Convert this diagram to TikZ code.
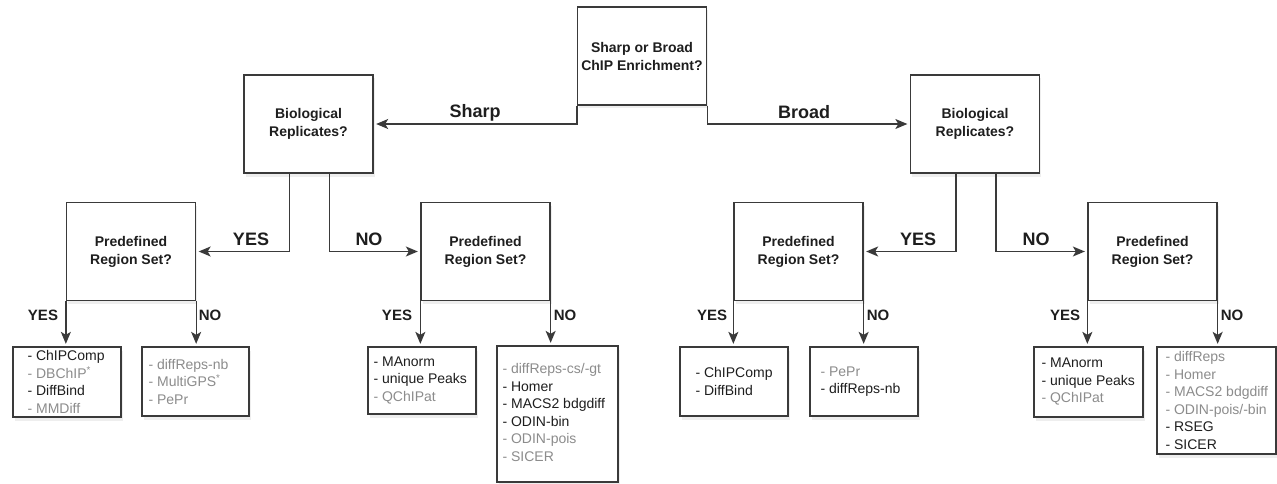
\documentclass[tikz,border=0pt]{standalone}
\usepackage{fontspec}
\setmainfont{Liberation Sans}
\usetikzlibrary{arrows.meta,shadows,calc}
\definecolor{linec}{HTML}{3A3A3A}
\definecolor{txton}{HTML}{1E1E1E}
\definecolor{txtoff}{HTML}{8C8C8C}
\newcommand{\yitem}[1]{\textcolor{txton}{- #1}}
\newcommand{\gitem}[1]{\textcolor{txtoff}{- #1}}
\begin{document}
\begin{tikzpicture}[x=1pt,y=-1pt,
  shad/.style={drop shadow={shadow xshift=1.5pt, shadow yshift=-3.5pt, opacity=0.13}},
  qbox/.style={draw=linec, line width=1.3pt, fill=white, minimum width=129pt, minimum height=98pt,
    inner sep=0pt, align=center, font=\bfseries\fontsize{14}{18}\selectfont, text=txton, shad},
  leafbox/.style={draw=linec, line width=1.3pt, fill=white, inner sep=0pt, shad},
  leaftxt/.style={anchor=west, align=left, inner sep=0pt, font=\fontsize{14}{17.5}\selectfont},
  lbl/.style={font=\bfseries\fontsize{18}{18}\selectfont, text=txton, anchor=base, inner sep=0pt},
  lbls/.style={font=\bfseries\fontsize{15}{15}\selectfont, text=txton, anchor=base, inner sep=0pt},
  arr/.style={-{Stealth[length=12pt,width=10pt,inset=3pt]}, line width=1.3pt, draw=linec, shorten >=2.5pt}
]
\useasboundingbox[fill=white] (0,0) rectangle (1277,484);

% question boxes
\node[qbox] (top)  at (642,56)     {Sharp or Broad\\ChIP Enrichment?};
\node[qbox] (bioL) at (308.5,124)  {Biological\\Replicates?};
\node[qbox] (bioR) at (975,124)    {Biological\\Replicates?};
\node[qbox] (preA) at (131,251.5)  {Predefined\\Region Set?};
\node[qbox] (preB) at (485.5,251.5){Predefined\\Region Set?};
\node[qbox] (preC) at (798.5,251.5){Predefined\\Region Set?};
\node[qbox] (preD) at (1152.5,251.5){Predefined\\Region Set?};

% leaf boxes
\node[leafbox, minimum width=108pt, minimum height=70pt]  (lA) at (67,382) {};
\node[leafbox, minimum width=107pt, minimum height=69pt]  (lB) at (195.5,381.5) {};
\node[leafbox, minimum width=108pt, minimum height=67pt]  (lC) at (422,380.5) {};
\node[leafbox, minimum width=121pt, minimum height=136pt] (lD) at (557.5,414) {};
\node[leafbox, minimum width=108pt, minimum height=69pt]  (lE) at (734,381.5) {};
\node[leafbox, minimum width=108pt, minimum height=69pt]  (lF) at (864,381.5) {};
\node[leafbox, minimum width=109pt, minimum height=70pt]  (lG) at (1088.5,382) {};
\node[leafbox, minimum width=119pt, minimum height=107pt] (lH) at (1216.5,400.5) {};

% leaf texts
\node[leaftxt] (tA) at ([xshift=15pt]lA.west) {\yitem{ChIPComp}\\\gitem{DBChIP\textsuperscript{*}}\\\yitem{DiffBind}\\\gitem{MMDiff}};
\node[leaftxt] (tB) at ([xshift=7pt]lB.west) {\gitem{diffReps-nb}\\\gitem{MultiGPS\textsuperscript{*}}\\\gitem{PePr}};
\node[leaftxt] (tC) at ([xshift=6pt]lC.west) {\yitem{MAnorm}\\\yitem{unique Peaks}\\\gitem{QChIPat}};
\node[leaftxt] (tD) at ([xshift=6pt,yshift=1.5pt]lD.west) {\gitem{diffReps-cs/-gt}\\\yitem{Homer}\\\yitem{MACS2 bdgdiff}\\\yitem{ODIN-bin}\\\gitem{ODIN-pois}\\\gitem{SICER}};
\node[leaftxt] (tE) at ([xshift=16pt]lE.west) {\yitem{ChIPComp}\\\yitem{DiffBind}};
\node[leaftxt] (tF) at ([xshift=11pt]lF.west) {\gitem{PePr}\\\yitem{diffReps-nb}};
\node[leaftxt] (tG) at ([xshift=8pt]lG.west) {\yitem{MAnorm}\\\yitem{unique Peaks}\\\gitem{QChIPat}};
\node[leaftxt] (tH) at ([xshift=9pt]lH.west) {\gitem{diffReps}\\\gitem{Homer}\\\gitem{MACS2 bdgdiff}\\\gitem{ODIN-pois/-bin}\\\yitem{RSEG}\\\yitem{SICER}};

% connectors
\draw[arr] (top.south west) |- (bioL.east);
\draw[arr] (top.south east) |- (bioR.west);
\draw[arr] ([xshift=-19pt]bioL.south) |- (preA.east);
\draw[arr] ([xshift=21pt]bioL.south) |- (preB.west);
\draw[arr] ([xshift=-19pt]bioR.south) |- (preC.east);
\draw[arr] ([xshift=21pt]bioR.south) |- (preD.west);
\draw[arr] (preA.south west) -- (preA.south west |- lA.north);
\draw[arr] (preA.south east) -- (preA.south east |- lB.north);
\draw[arr] (preB.south west) -- (preB.south west |- lC.north);
\draw[arr] (preB.south east) -- (preB.south east |- lD.north);
\draw[arr] (preC.south west) -- (preC.south west |- lE.north);
\draw[arr] (preC.south east) -- (preC.south east |- lF.north);
\draw[arr] (preD.south west) -- (preD.south west |- lG.north);
\draw[arr] (preD.south east) -- (preD.south east |- lH.north);

% labels
\node[lbl] (lsharp) at (475,118) {Sharp};
\node[lbl] (lbroad) at (804,119) {Broad};
\node[lbl] (y1) at (251,245) {YES};
\node[lbl] (n1) at (369,245) {NO};
\node[lbl] (y2) at (918,245) {YES};
\node[lbl] (n2) at (1036,245) {NO};
\node[lbls] (ya) at (43,320) {YES};
\node[lbls] (na) at (210,320) {NO};
\node[lbls] (yb) at (397,320) {YES};
\node[lbls] (nb) at (565,320) {NO};
\node[lbls] (yc) at (712,320) {YES};
\node[lbls] (nc) at (878,320) {NO};
\node[lbls] (yd) at (1065,320) {YES};
\node[lbls] (nd) at (1232,320) {NO};
\end{tikzpicture}
\end{document}
